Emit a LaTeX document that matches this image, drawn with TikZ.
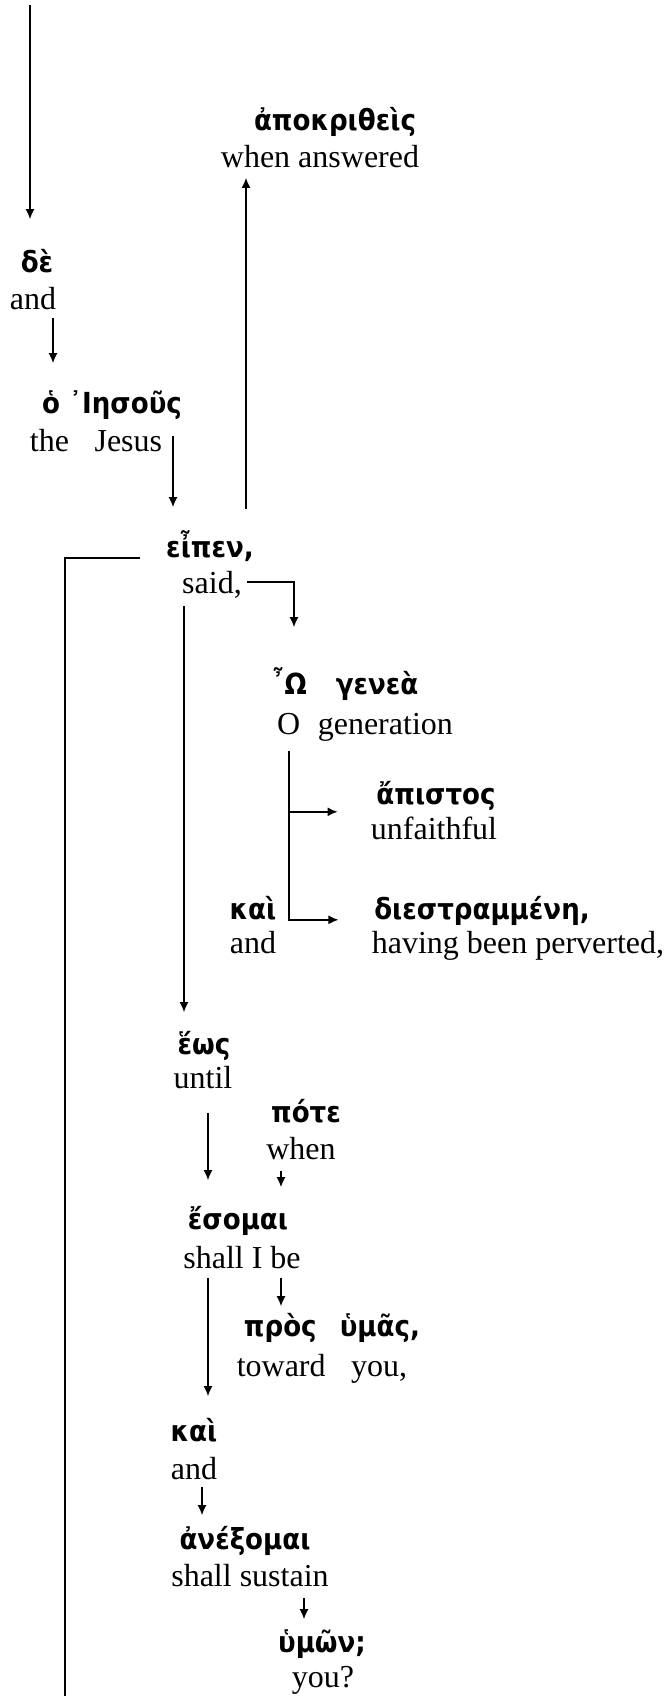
\documentclass[tikz,border=0pt]{standalone}
\usepackage{fontspec}
\setmainfont{Liberation Serif}
\newfontfamily\gkfont{DejaVu Sans}[FakeStretch=0.9]
\usetikzlibrary{arrows.meta}
\begin{document}
		\begin{tikzpicture}[x=0.5pt,y=-0.5pt,line width=0.8pt,>={Latex[length=5pt,width=4.5pt]},
			gk/.style={font={\gkfont\bfseries\fontsize{14.5}{17}\selectfont},inner sep=0pt,text height=9pt,text depth=0pt},
			en/.style={font={\fontsize{16}{19}\selectfont},inner sep=0pt,text height=11pt,text depth=0pt},
			gaps/.style 2 args={shorten <=#1,shorten >=#2}]
			\useasboundingbox (0,0) rectangle (668,1696);
			\node[gk] (apokr) at (335,122) {ἀποκριθεὶς};
			\node[en] (apokrEn) at (320,157) {when answered};
			\node[gk] (de) at (37,263) {δὲ};
			\node[en] (deEn) at (33,298) {and};
			\node[gk] (iesous) at (112,404) {ὁ ᾿Ιησοῦς};
			\node[en] (iesousEn) at (96,440) {the\hspace{.8em}Jesus};
			\node[gk] (eipen) at (210,548) {εἶπεν,};
			\node[en] (eipenEn) at (212,582) {said,};
			\node[gk] (genea) at (345,685) {῏Ω\hspace{1em}γενεὰ};
			\node[en] (geneaEn) at (365,723) {O\hspace{.55em}generation};
			\node[gk] (apistos) at (436,795) {ἄπιστος};
			\node[en] (apistosEn) at (434,828) {unfaithful};
			\node[gk] (kai) at (253,910) {καὶ};
			\node[en] (kaiEn) at (253,942) {and};
			\node[gk] (diestr) at (482,910) {διεστραμμένη,};
			\node[en] (diestrEn) at (518,942) {having been perverted,};
			\node[gk] (heos) at (204,1045) {ἕως};
			\node[en] (heosEn) at (203,1077) {until};
			\node[gk] (pote) at (306,1113) {πότε};
			\node[en] (poteEn) at (301,1148) {when};
			\node[gk] (esomai) at (238,1220) {ἔσομαι};
			\node[en] (esomaiEn) at (242,1257) {shall I be};
			\node[gk] (pros) at (332,1327) {πρὸς\hspace{.8em}ὑμᾶς,};
			\node[en] (prosEn) at (322,1365) {toward\hspace{.8em}you,};
			\node[gk] (kaiB) at (194,1432) {καὶ};
			\node[en] (kaiBEn) at (194,1468) {and};
			\node[gk] (anex) at (245,1540) {ἀνέξομαι};
			\node[en] (anexEn) at (250,1575) {shall sustain};
			\node[gk] (hymon) at (322,1643) {ὑμῶν;};
			\node[en] (hymonEn) at (323,1676) {you?};
			% rails
			\coordinate (start) at (30,5);
			\coordinate (bottom) at (65,1696);
			\coordinate (rDe) at (53,0);
			\coordinate (rIes) at (173,0);
			\coordinate (rAns) at (246,0);
			\coordinate (rSaid) at (294,0);
			\coordinate (rHeos) at (184,0);
			\coordinate (rGen) at (289,0);
			\coordinate (rEso) at (208,0);
			\coordinate (rPote) at (281,0);
			\coordinate (rKai) at (202,0);
			\coordinate (rAnex) at (304,0);
			\draw[->,shorten >=17pt] (start) -- (start |- de.north);
			\draw[->,gaps={4pt}{15.5pt}] (rDe |- deEn.south) -- (rDe |- iesous.north);
			\draw[->,gaps={4pt}{15.5pt}] (rIes |- iesousEn.north) -- (rIes |- eipen.north);
			\draw[->,gaps={14.5pt}{4.5pt}] (rAns |- eipen.north) -- (rAns |- apokrEn.south);
			\draw ([xshift=-12.5pt]eipen.south west) -| (bottom);
			\draw[->,shorten >=24pt] ([xshift=2pt]eipenEn.east) -| (rSaid |- genea.north);
			\draw[->,gaps={6pt}{11.5pt}] (rHeos |- eipenEn.south) -- (rHeos |- heos.north);
			\draw[->,shorten <=8pt] (rGen |- geneaEn.south) |- ([xshift=-17.5pt]diestr.south west);
			\draw[->] ([yshift=-3.5pt]rGen |- apistos.south) -- ([xshift=-19pt,yshift=-3.5pt]apistos.south west);
			\draw[->,gaps={12pt}{15pt}] (rEso |- heosEn.south) -- (rEso |- esomai.north);
			\draw[->,gaps={5.5pt}{11.5pt}] (rPote |- poteEn.south) -- (rPote |- esomai.north);
			\draw[->,gaps={4.5pt}{5.5pt}] (rPote |- esomaiEn.south) -- (rPote |- pros.north);
			\draw[->,gaps={4.5pt}{13pt}] (rEso |- esomaiEn.south) -- (rEso |- kaiB.north);
			\draw[->,gaps={3.5pt}{7.5pt}] (rKai |- kaiBEn.south) -- (rKai |- anex.north);
			\draw[->,gaps={5.5pt}{7pt}] (rAnex |- anexEn.south) -- (rAnex |- hymon.north);
		\end{tikzpicture}
\end{document}
